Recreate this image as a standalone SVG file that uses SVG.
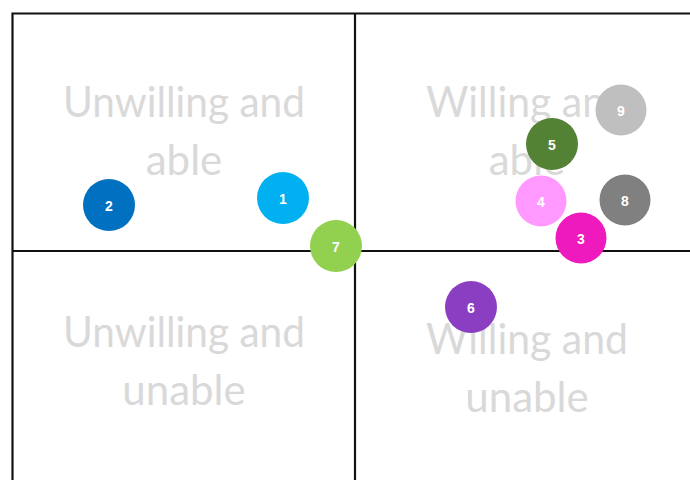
<svg xmlns="http://www.w3.org/2000/svg" width="690" height="480" viewBox="0 0 690 480">
<style>
.grid{stroke:#111;stroke-width:2.2;fill:none}
.lbl{font-family:Lato,"Liberation Sans",sans-serif;font-size:42px;fill:#D9D9D9;text-anchor:middle}
.num{font-family:"Liberation Sans",Arial,sans-serif;font-size:14px;font-weight:bold;fill:#fff;text-anchor:middle;dominant-baseline:central}
</style>
<rect width="690" height="480" fill="#fff"/>
<g id="grid">
<path class="grid" d="M12.5 480 V13.5 H690 M355 13.5 V480 M12.5 251 H690"/>
</g>
<g id="quadrant-unwilling-able">
<text class="lbl" x="184" y="117" textLength="242" lengthAdjust="spacingAndGlyphs">Unwilling and</text>
<text class="lbl" x="184" y="175">able</text>
</g>
<g id="quadrant-willing-able">
<text class="lbl" x="527" y="117" textLength="202" lengthAdjust="spacingAndGlyphs">Willing and</text>
<text class="lbl" x="527" y="175">able</text>
</g>
<g id="quadrant-unwilling-unable">
<text class="lbl" x="184" y="347" textLength="242" lengthAdjust="spacingAndGlyphs">Unwilling and</text>
<text class="lbl" x="184" y="405">unable</text>
</g>
<g id="quadrant-willing-unable">
<text class="lbl" x="527" y="354" textLength="202" lengthAdjust="spacingAndGlyphs">Willing and</text>
<text class="lbl" x="527" y="412">unable</text>
</g>
<g id="connectors"></g>
<g id="n2"><circle cx="109" cy="205" r="26" fill="#0070C0"/><text class="num" x="109" y="206">2</text></g>
<g id="n1"><circle cx="283" cy="198" r="26" fill="#00B0F0"/><text class="num" x="283" y="199">1</text></g>
<g id="n7"><circle cx="336" cy="246" r="26" fill="#92D050"/><text class="num" x="336" y="247">7</text></g>
<g id="n9"><circle cx="621" cy="110" r="25.5" fill="#BFBFBF"/><text class="num" x="621" y="111">9</text></g>
<g id="n5"><circle cx="552" cy="144" r="26" fill="#548235"/><text class="num" x="552" y="145">5</text></g>
<g id="n4"><circle cx="541" cy="201" r="25.5" fill="#FF99FF"/><text class="num" x="541" y="202">4</text></g>
<g id="n8"><circle cx="625" cy="200" r="25.5" fill="#808080"/><text class="num" x="625" y="201">8</text></g>
<g id="n3"><circle cx="581" cy="238" r="25.5" fill="#EE1ABE"/><text class="num" x="581" y="239">3</text></g>
<g id="n6"><circle cx="471" cy="307" r="26" fill="#8A3FC2"/><text class="num" x="471" y="308">6</text></g>
</svg>
